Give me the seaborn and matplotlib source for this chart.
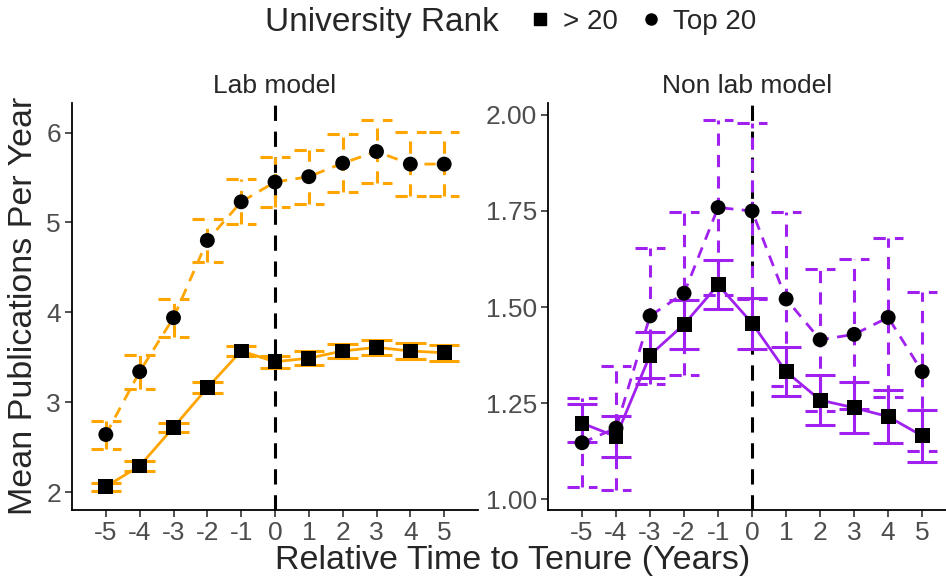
import numpy as np
import pandas as pd
import seaborn as sns
import matplotlib.pyplot as plt
from matplotlib.lines import Line2D

# data
years = [-5, -4, -3, -2, -1, 0, 1, 2, 3, 4, 5]
ranks = ['> 20', 'Top 20']

lab_low_mean = [2.06, 2.29, 2.72, 3.16, 3.57, 3.45, 3.49, 3.57, 3.61, 3.57, 3.55]
lab_low_err = [0.045, 0.055, 0.052, 0.06, 0.06, 0.067, 0.078, 0.08, 0.087, 0.087, 0.087]
lab_top_mean = [2.64, 3.34, 3.94, 4.80, 5.23, 5.45, 5.51, 5.66, 5.79, 5.65, 5.65]
lab_top_err = [0.156, 0.19, 0.21, 0.24, 0.25, 0.28, 0.30, 0.32, 0.35, 0.36, 0.36]

nonlab_low_mean = [1.198, 1.163, 1.375, 1.455, 1.558, 1.458, 1.332, 1.258, 1.238, 1.215, 1.165]
nonlab_low_err = [0.049, 0.054, 0.060, 0.063, 0.064, 0.066, 0.063, 0.065, 0.066, 0.068, 0.068]
nonlab_top_mean = [1.147, 1.185, 1.477, 1.536, 1.759, 1.750, 1.521, 1.415, 1.429, 1.473, 1.332]
nonlab_top_err = [0.116, 0.162, 0.176, 0.212, 0.228, 0.23, 0.226, 0.185, 0.195, 0.206, 0.207]


def make_df(low_m, low_e, top_m, top_e):
    return pd.DataFrame({
        'time': years * 2,
        'mean': low_m + top_m,
        'err': low_e + top_e,
        'rank': [ranks[0]] * len(years) + [ranks[1]] * len(years),
    })


lab = make_df(lab_low_mean, lab_low_err, lab_top_mean, lab_top_err)
nonlab = make_df(nonlab_low_mean, nonlab_low_err, nonlab_top_mean, nonlab_top_err)

sns.set_theme(style='ticks')
plt.rcParams['font.family'] = ['Liberation Sans', 'DejaVu Sans']

fig = plt.figure(figsize=(9.46, 5.81), dpi=100)
W, H = 946, 581


def px_axes(x0, y0, x1, y1):
    return fig.add_axes([x0 / W, 1 - y1 / H, (x1 - x0) / W, (y1 - y0) / H])


ax1 = px_axes(72, 103, 478, 510)
ax2 = px_axes(548, 103, 946, 510)


def draw_panel(ax, df, color, title, ylim, yticks, yfmt, xlim):
    ax.axvline(0, color='black', lw=2.2, dashes=(5, 3.5), zorder=1)
    for r, ls in zip(ranks, ['-', (0, (4, 3))]):
        d = df[df['rank'] == r]
        lo = d['mean'] - d['err']
        hi = d['mean'] + d['err']
        ax.vlines(d['time'], lo, hi, color=color, lw=2.2, linestyles=[ls], zorder=2)
        ax.hlines(hi, d['time'] - 0.45, d['time'] + 0.45, color=color, lw=2.2,
                  linestyles=[ls], zorder=2)
        ax.hlines(lo, d['time'] - 0.45, d['time'] + 0.45, color=color, lw=2.2,
                  linestyles=[ls], zorder=2)
    sns.lineplot(data=df, x='time', y='mean', style='rank', color=color,
                 dashes={'> 20': '', 'Top 20': (4, 3)}, lw=2.0, ax=ax,
                 legend=False, zorder=3)
    sns.scatterplot(data=df, x='time', y='mean', style='rank',
                    markers={'> 20': 's', 'Top 20': 'o'}, color='black',
                    s=115, linewidth=0, ax=ax, legend=False, zorder=4)
    ax.set_xlim(*xlim)
    ax.set_ylim(*ylim)
    ax.set_xticks(years)
    ax.set_xticklabels([str(y) for y in years])
    ax.set_yticks(yticks)
    ax.set_yticklabels([yfmt.format(v) for v in yticks])
    ax.set_xlabel('')
    ax.set_ylabel('')
    ax.set_title(title, fontsize=19, pad=7)
    ax.tick_params(labelsize=19, labelcolor='#4D4D4D', color='#333333',
                   length=5, width=1.2, pad=3)
    for s in ['top', 'right']:
        ax.spines[s].set_visible(False)
    for s in ['left', 'bottom']:
        ax.spines[s].set_linewidth(1.3)
        ax.spines[s].set_color('black')


draw_panel(ax1, lab, '#FFA500', 'Lab model', (1.80, 6.33), [2, 3, 4, 5, 6],
           '{:g}', (-6, 6))
draw_panel(ax2, nonlab, '#A020F0', 'Non lab model', (0.972, 2.031),
           [1.0, 1.25, 1.5, 1.75, 2.0], '{:.2f}', (-6, 5.7))

fig.text(24 / W, 1 - 306 / H, 'Mean Publications Per Year', rotation=90,
         ha='center', va='center', fontsize=24.5)
fig.text(513 / W, 1 - 560 / H, 'Relative Time to Tenure (Years)',
         ha='center', va='center', fontsize=24.5)

fig.text(382 / W, 1 - 22 / H, 'University Rank', ha='center', va='center',
         fontsize=24)
handles = [Line2D([], [], marker='s', color='black', ls='', markersize=8),
           Line2D([], [], marker='o', color='black', ls='', markersize=8)]
fig.legend(handles, ranks, loc='center', bbox_to_anchor=(640 / W, 1 - 22 / H),
           ncol=2, frameon=False, fontsize=20, handletextpad=0.2,
           columnspacing=0.6, handlelength=1.2)

fig.savefig('out.png', dpi=100)
